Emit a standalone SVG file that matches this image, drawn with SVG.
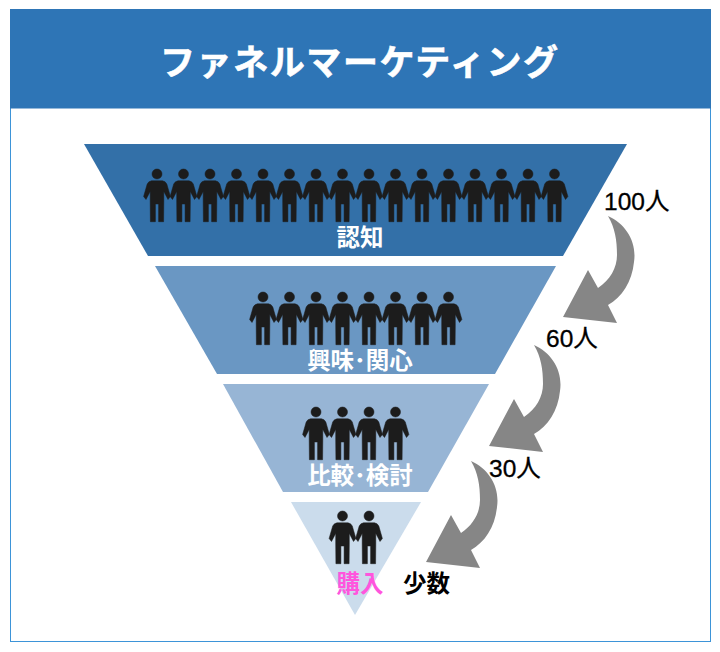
<svg xmlns="http://www.w3.org/2000/svg" width="720" height="652" viewBox="0 0 720 652">
<style>
.cjk{font-family:"Liberation Sans","Noto Sans CJK JP",sans-serif}
.lab{font-size:23.5px;font-weight:700;fill:#fff;text-anchor:middle;font-family:"Noto Sans CJK JP",sans-serif}
.cnt{font-size:24.5px;fill:#000;stroke:#000;stroke-width:0.3}
.arrow{fill:#868686}
</style>
<defs>
<g id="person" fill="#1c1c1c" stroke="#1c1c1c" stroke-width="0.5" stroke-linejoin="round">
<circle cx="0" cy="0" r="5"/>
<path d="M-5.500,6.800 H5.500 Q8.500,7.300 9.800,10 L13.400,22.500 L11,25.500 L6.800,17.500 V28 L6.600,47.700 H1.600 V30 H-1.600 V47.700 H-6.600 L-6.800,28 V17.500 L-11,25.500 L-13.400,22.500 L-9.800,10 Q-8.500,7.300 -5.500,6.800Z"/>
</g>
<path id="arr" d="M608,216 C626,224 637,242 634,262 C632,282 622,297 608,305 L617,323 L563,317 L588,270 L598,288 C610,280 617,268 617,255 C617,240 615,228 608,216Z"/>
</defs>
<g id="frame">
<rect x="10.500" y="9.500" width="700" height="632" fill="#fff" stroke="#3d94d8" stroke-width="1"/>
</g>
<g id="header">
<rect x="10" y="9" width="701" height="99.500" fill="#2e75b6"/>
<text x="359" y="75" text-anchor="middle" font-size="35" font-weight="700" fill="#fff" stroke="#fff" stroke-width="0.6" font-family="Noto Sans CJK JP,sans-serif" textLength="398" lengthAdjust="spacing">ファネルマーケティング</text>
</g>
<g id="node-awareness">
<polygon points="84,144 627,144 563,256 148,256" fill="#3370a8"/>
<use href="#person" x="157" y="174"/><use href="#person" x="183.500" y="174"/><use href="#person" x="210" y="174"/><use href="#person" x="236.500" y="174"/><use href="#person" x="263" y="174"/><use href="#person" x="289.500" y="174"/><use href="#person" x="316" y="174"/><use href="#person" x="342.500" y="174"/><use href="#person" x="369" y="174"/><use href="#person" x="395.500" y="174"/><use href="#person" x="422" y="174"/><use href="#person" x="448.500" y="174"/><use href="#person" x="475" y="174"/><use href="#person" x="501.500" y="174"/><use href="#person" x="528" y="174"/><use href="#person" x="554.500" y="174"/>
<text class="lab" x="360" y="246">認知</text>
</g>
<g id="node-interest">
<polygon points="155,266 556,266 495,374 217,374" fill="#6a97c3"/>
<use href="#person" x="263" y="297"/><use href="#person" x="289.500" y="297"/><use href="#person" x="316" y="297"/><use href="#person" x="342.500" y="297"/><use href="#person" x="369" y="297"/><use href="#person" x="395.500" y="297"/><use href="#person" x="422" y="297"/><use href="#person" x="448.500" y="297"/>
<text class="lab" x="360" y="369">興味･関心</text>
</g>
<g id="node-compare">
<polygon points="223,384 489,384 428,492 283,492" fill="#97b5d5"/>
<use href="#person" x="316" y="412"/><use href="#person" x="342.500" y="412"/><use href="#person" x="369" y="412"/><use href="#person" x="395.500" y="412"/>
<text class="lab" x="360" y="484">比較･検討</text>
</g>
<g id="node-purchase">
<polygon points="291,502 421,502 355,615" fill="#cbdcec"/>
<use href="#person" x="342.500" y="516"/><use href="#person" x="369" y="516"/>
<text class="lab" x="360" y="592" style="fill:#ff55dd">購入</text>
</g>
<g id="connectors">
<use href="#arr" class="arrow"/>
<use href="#arr" class="arrow" x="-74" y="129"/>
<use href="#arr" class="arrow" x="-137" y="245"/>
</g>
<g id="labels">
<text class="cjk cnt" x="604" y="210">100人</text>
<text class="cjk cnt" x="546" y="347">60人</text>
<text class="cjk cnt" x="489" y="477">30人</text>
<text class="cjk" x="403" y="592" font-size="23.5" font-weight="700" fill="#000">少数</text>
</g>
</svg>
